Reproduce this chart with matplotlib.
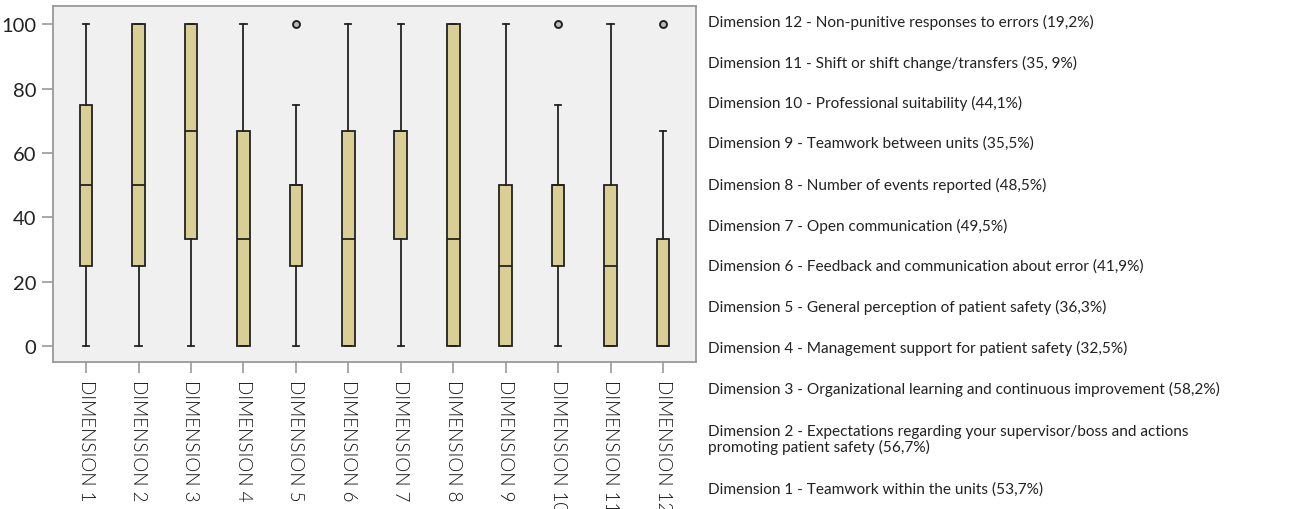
import matplotlib
matplotlib.use("Agg")
import matplotlib.pyplot as plt

# Box-plot summaries per dimension (score 0-100)
labels = [f"DIMENSION {i}" for i in range(1, 13)]
whisker_low = [0, 0, 0, 0, 0, 0, 0, 0, 0, 0, 0, 0]
q1 = [25, 25, 33.3, 0, 25, 0, 33.3, 0, 0, 25, 0, 0]
median = [50, 50, 66.7, 33.3, 50, 33.3, 66.7, 33.3, 25, 50, 25, 0]
q3 = [75, 100, 100, 66.7, 50, 66.7, 66.7, 100, 50, 50, 50, 33.3]
whisker_high = [100, 100, 100, 100, 75, 100, 100, 100, 100, 75, 100, 66.7]
outliers = [[], [], [], [], [100], [], [], [], [], [100], [], [100]]

descriptions = [
    "Dimension 12 - Non-punitive responses to errors (19,2%)",
    "Dimension 11 - Shift or shift change/transfers (35, 9%)",
    "Dimension 10 - Professional suitability (44,1%)",
    "Dimension 9 - Teamwork between units (35,5%)",
    "Dimension 8 - Number of events reported (48,5%)",
    "Dimension 7 - Open communication (49,5%)",
    "Dimension 6 - Feedback and communication about error (41,9%)",
    "Dimension 5 - General perception of patient safety (36,3%)",
    "Dimension 4 - Management support for patient safety (32,5%)",
    "Dimension 3 - Organizational learning and continuous improvement (58,2%)",
    "Dimension 2 - Expectations regarding your supervisor/boss and actions\npromoting patient safety (56,7%)",
    "Dimension 1 - Teamwork within the units (53,7%)",
]
yticks = [0, 20, 40, 60, 80, 100]

plt.rcParams["font.family"] = ["Lato", "DejaVu Sans"]

fig = plt.figure(figsize=(13.06, 5.10), dpi=100)
ax = fig.add_axes([0.0406, 0.288, 0.4924, 0.698])
ax.set_facecolor("#F0F0F0")

stats = []
for i in range(12):
    stats.append(dict(label=labels[i], whislo=whisker_low[i], q1=q1[i],
                      med=median[i], q3=q3[i], whishi=whisker_high[i],
                      fliers=outliers[i]))

line_col = "#222222"
ax.bxp(stats, positions=range(1, 13), widths=0.24, patch_artist=True,
       showfliers=True,
       boxprops=dict(facecolor="#D9CF94", edgecolor=line_col, linewidth=1.3),
       medianprops=dict(color=line_col, linewidth=1.3),
       whiskerprops=dict(color=line_col, linewidth=1.3),
       capprops=dict(color=line_col, linewidth=1.3),
       capwidths=0.12,
       flierprops=dict(marker="o", markersize=5, markerfacecolor="#BBBBBB",
                       markeredgecolor=line_col, markeredgewidth=1.4))

ax.set_xlim(0.37, 12.63)
ax.set_ylim(-5.0, 105.6)
ax.set_yticks(yticks)
ax.set_yticklabels([str(t) for t in yticks], fontsize=14.5, color="#222222")
ax.set_xticks(range(1, 13))
ax.set_xticklabels(labels, rotation=270, fontsize=13.5, color="#111111",
                   fontweight=300)
ax.tick_params(axis="both", length=8, color="#999999", width=1.2, pad=4)
for s in ax.spines.values():
    s.set_color("#999999")
    s.set_linewidth(1.3)

# Dimension descriptions listed to the right of the plot
y_pos = [22, 63, 103, 144, 185, 226, 267, 307, 348, 389, 440, 490]
for text, yp in zip(descriptions, y_pos):
    fig.text(708 / 1306, 1 - yp / 510, text, fontsize=11.1, color="#222222",
             va="center", ha="left", linespacing=1.0)

fig.savefig("out.png", dpi=100)
